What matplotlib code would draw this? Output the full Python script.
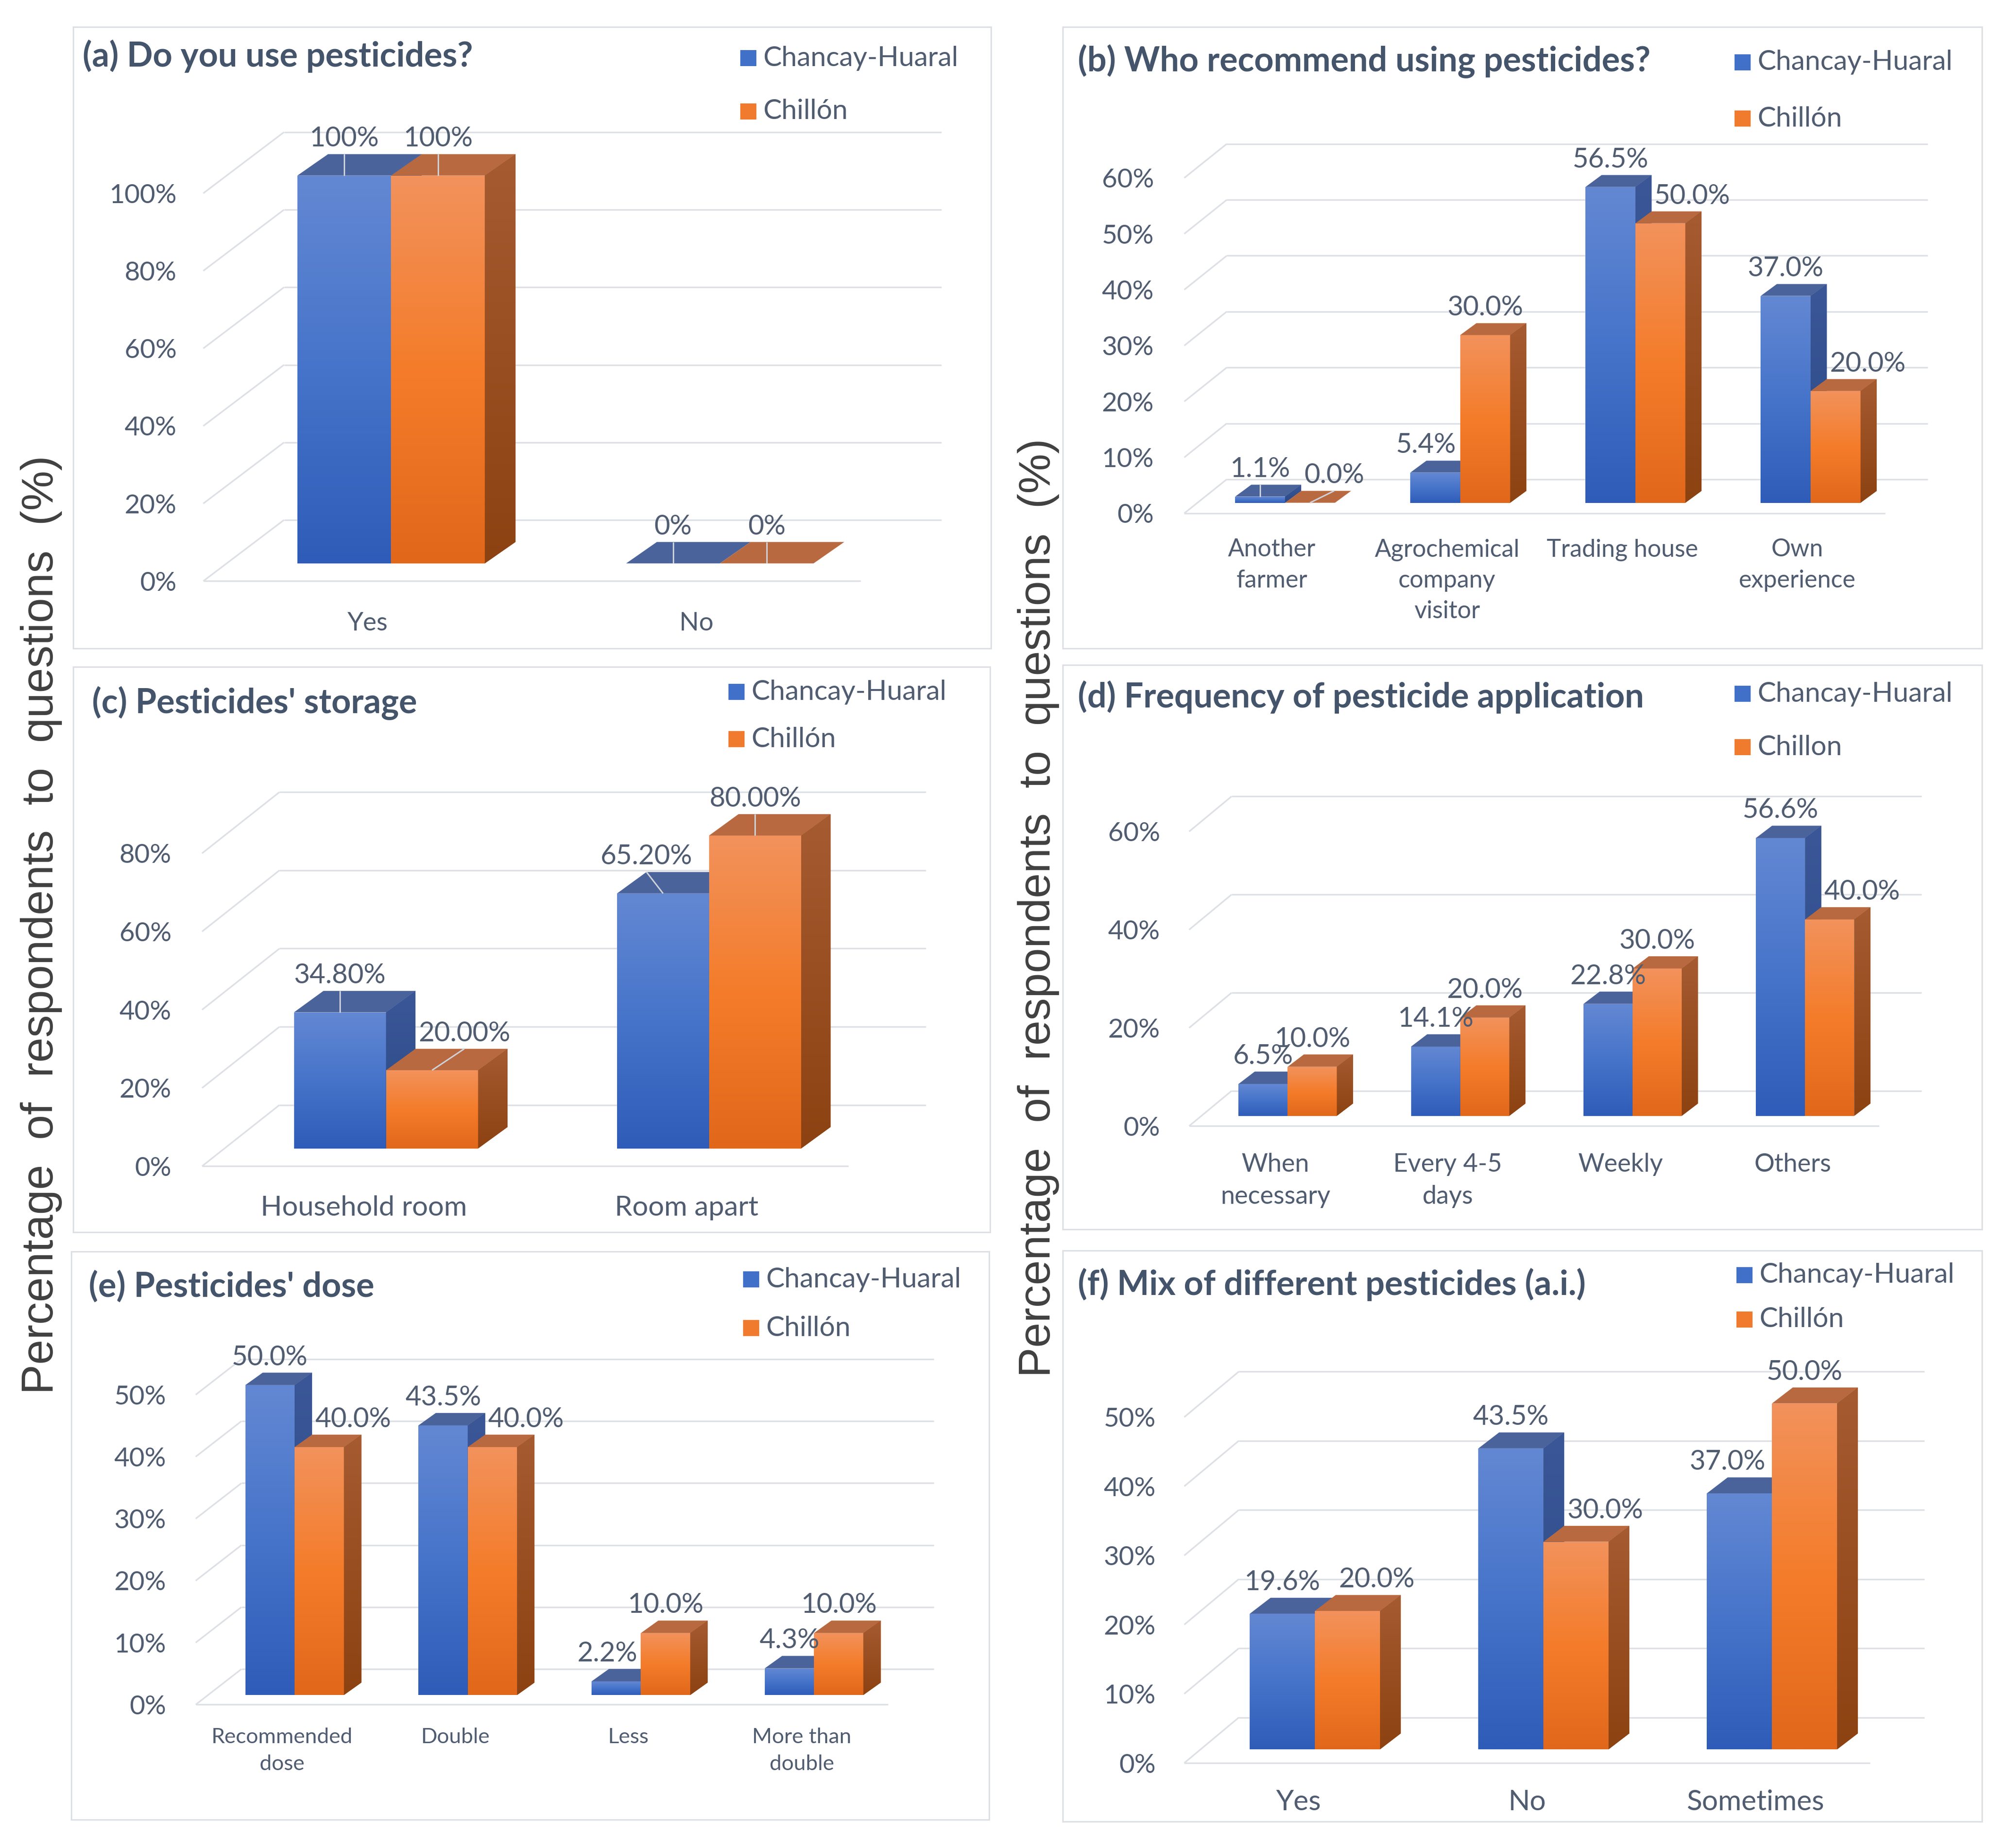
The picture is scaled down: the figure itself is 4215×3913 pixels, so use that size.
import numpy as np
import matplotlib
matplotlib.use('Agg')
import matplotlib.pyplot as plt
from matplotlib.patches import Polygon, Rectangle
from matplotlib.colors import LinearSegmentedColormap

# ======================= DATA =======================
series = ['Chancay-Huaral', 'Chillón']
series_d = ['Chancay-Huaral', 'Chillon']

a_title = '(a) Do you use pesticides?'
a_categories = ['Yes', 'No']
a_chancay = [100, 0]
a_chillon = [100, 0]
a_ticks = [0, 20, 40, 60, 80, 100]

b_title = '(b) Who recommend using pesticides?'
b_categories = ['Another\nfarmer', 'Agrochemical\ncompany\nvisitor', 'Trading house', 'Own\nexperience']
b_chancay = [1.1, 5.4, 56.5, 37.0]
b_chillon = [0.0, 30.0, 50.0, 20.0]
b_ticks = [0, 10, 20, 30, 40, 50, 60]

c_title = "(c) Pesticides' storage"
c_categories = ['Household room', 'Room apart']
c_chancay = [34.8, 65.2]
c_chillon = [20.0, 80.0]
c_ticks = [0, 20, 40, 60, 80]

d_title = '(d) Frequency of pesticide application'
d_categories = ['When\nnecessary', 'Every 4-5\ndays', 'Weekly', 'Others']
d_chancay = [6.5, 14.1, 22.8, 56.6]
d_chillon = [10.0, 20.0, 30.0, 40.0]
d_ticks = [0, 20, 40, 60]

e_title = "(e) Pesticides' dose"
e_categories = ['Recommended\ndose', 'Double', 'Less', 'More than\ndouble']
e_chancay = [50.0, 43.5, 2.2, 4.3]
e_chillon = [40.0, 40.0, 10.0, 10.0]
e_ticks = [0, 10, 20, 30, 40, 50]

f_title = '(f) Mix of different pesticides (a.i.)'
f_categories = ['Yes', 'No', 'Sometimes']
f_chancay = [19.6, 43.5, 37.0]
f_chillon = [20.0, 30.0, 50.0]
f_ticks = [0, 10, 20, 30, 40, 50]

y_label = 'Percentage  of  respondents  to  questions  (%)'

# ======================= STYLE / LAYOUT =======================
W, H, DPI = 4215, 3913, 100
FONT = ['Lato', 'DejaVu Sans']
YFONT = ['Liberation Sans', 'DejaVu Sans']
C_TITLE = '#44546A'
C_TEXT = '#505C70'
C_YLAB = '#404040'
C_GRID = '#DDE0E5'
C_BOX = '#DCDFE4'

BLUE = dict(front=('#6388D3', '#4674CA', '#2E5CB8'), top='#4B639B',
            side=('#3B5797', '#2A4886'), legend='#4170C8')
ORANGE = dict(front=('#F2925C', '#F47C2A', '#E1681B'), top='#B9693F',
              side=('#A65B31', '#8C4211'), legend='#F07A2D')

BAR_W = 0.285          # fraction of category width per bar
BAR_DX, BAR_DY = 0.38, 0.35   # bar depth as fraction of wall depth
XLAB_LINESPACING = 1.48

# layout in reference pixels (x right, y down)
panels = [
    dict(title=a_title, cats=a_categories, s1=a_chancay, s2=a_chillon, ticks=a_ticks,
         names=series, fmt='{:.0f}%', box=(155, 57, 2099, 1373),
         front=(430.6, 1823.4, 1230.4, 409.2), depth=(171, 129.4), d0=0.29,
         tick_right=374, xlab_cy=1316, xref=('Yes', 86),
         title_xy=(175, 119), legend=(1568, 123, 236), leaders=[0, 1]),
    dict(title=b_title, cats=b_categories, s1=b_chancay, s2=b_chillon, ticks=b_ticks,
         names=series, fmt='{:.1f}%', box=(2251, 57, 4198, 1373),
         front=(2508.4, 3992.7, 1086.9, 376.7), depth=(90, 72), d0=0.31,
         tick_right=2444, xlab_cy=1160, xref=('Trading house', 321),
         title_xy=(2283, 130), legend=(3674, 132, 251), leaders=[0]),
    dict(title=c_title, cats=c_categories, s1=c_chancay, s2=c_chillon, ticks=c_ticks,
         names=series, fmt='{:.2f}%', box=(155, 1412, 2097, 2609),
         front=(428, 1796.5, 2469.3, 1806.8), depth=(164, 129.6), d0=0.29,
         tick_right=363, xlab_cy=2554, xref=('Household room', 437),
         title_xy=(195, 1489), legend=(1543, 1465, 1565), leaders=[0, 1]),
    dict(title=d_title, cats=d_categories, s1=d_chancay, s2=d_chillon, ticks=d_ticks,
         names=series_d, fmt='{:.1f}%', box=(2251, 1408, 4198, 2603),
         front=(2518.7, 3979.9, 2384.3, 1760.7), depth=(90, 74.5), d0=0.29,
         tick_right=2457, xlab_cy=2461, xref=('Weekly', 180),
         title_xy=(2283, 1476), legend=(3674, 1469, 1582), leaders=[]),
    dict(title=e_title, cats=e_categories, s1=e_chancay, s2=e_chillon, ticks=e_ticks,
         names=series, fmt='{:.1f}%', box=(151, 2650, 2095, 3853),
         front=(414.5, 1881.3, 3609.4, 2953.2), depth=(97, 75.3), d0=0.27,
         tick_right=352, xlab_cy=3675, xref=('Recommended', 299),
         title_xy=(188, 2724), legend=(1574, 2709, 2812), leaders=[]),
    dict(title=f_title, cats=f_categories, s1=f_chancay, s2=f_chillon, ticks=f_ticks,
         names=series, fmt='{:.1f}%', box=(2251, 2648, 4198, 3857),
         front=(2508.4, 3960.6, 3733, 3000.6), depth=(115.7, 96.5), d0=0.30,
         tick_right=2448, xlab_cy=3812, xref=('Sometimes', 292),
         title_xy=(2283, 2720), legend=(3678, 2700, 2794), leaders=[]),
]

fig = plt.figure(figsize=(W / DPI, H / DPI), dpi=DPI)
fig.patch.set_facecolor('white')
renderer = fig.canvas.get_renderer()
PT = 72.0 / DPI


def text_w(s, size, family, weight='normal'):
    t = fig.text(0, 0, s, fontsize=size, family=family, weight=weight)
    w = t.get_window_extent(renderer).width
    t.remove()
    return w


def fit(s, target, family, weight='normal'):
    return 100.0 * target / text_w(s, 100, family, weight)


TITLE_FS = fit(a_title, 828, FONT, 'bold')
LEG_FS = fit('Chancay-Huaral', 414, FONT)
TICK_FS = fit('100%', 143, FONT)
DLAB_FS = fit('56.5%', 161, FONT)
YLAB_FS = fit(y_label, 1990, YFONT)


def grad_poly(ax, verts, cols, z):
    poly = Polygon(verts, closed=True, facecolor=cols[len(cols) // 2],
                   edgecolor='none', zorder=z, antialiased=True)
    ax.add_patch(poly)
    xs = [v[0] for v in verts]
    ys = [v[1] for v in verts]
    if max(ys) - min(ys) <= 0:
        return
    cmap = LinearSegmentedColormap.from_list('g', list(cols))
    g = np.linspace(0, 1, 256).reshape(-1, 1)
    im = ax.imshow(g, cmap=cmap, extent=[min(xs), max(xs), min(ys), max(ys)],
                   origin='upper', aspect='auto', interpolation='bilinear', zorder=z)
    im.set_clip_path(poly)


def draw_panel(P):
    cats = P['cats']
    n = len(cats)
    bl, bt, br, bb = P['box']
    xl, xr, y0, ytop = P['front']
    ticks = P['ticks']
    ymax = ticks[-1]
    cw = (xr - xl) / n
    ppv = (y0 - ytop) / ymax
    ax = fig.add_axes([bl / W, 1 - bb / H, (br - bl) / W, (bb - bt) / H])
    ax.set_facecolor('white')
    ax.set_xlim((bl - xl) / cw, (br - xl) / cw)
    ax.set_ylim((y0 - bb) / ppv, (y0 - bt) / ppv)
    ax.set_autoscale_on(False)
    for sp in ax.spines.values():
        sp.set_color(C_BOX)
        sp.set_linewidth(2.2)

    def X(px):
        return (px - xl) / cw

    def Y(py):
        return (y0 - py) / ppv

    dxu = P['depth'][0] / cw
    dyu = P['depth'][1] / ppv

    # y ticks
    ax.set_yticks(ticks)
    ax.set_yticklabels(['{}%'.format(t) for t in ticks], family=FONT,
                       fontsize=TICK_FS, color=C_TEXT)
    ax.tick_params(axis='y', length=0, pad=-(P['tick_right'] - bl) * PT)
    # x ticks
    xfs = fit(P['xref'][0], P['xref'][1], FONT)
    ax.set_xticks([k + 0.5 for k in range(n)])
    ax.set_xticklabels(cats, family=FONT, fontsize=xfs, color=C_TEXT,
                       linespacing=XLAB_LINESPACING)
    xfs_px = xfs / PT
    top_px = P['xlab_cy'] - 0.38 * xfs_px
    ax.tick_params(axis='x', length=0, pad=-(bb - top_px) * PT)

    # walls / gridlines
    for t in ticks:
        ax.plot([0, dxu], [t, t + dyu], color=C_GRID, lw=2.4, zorder=1,
                solid_capstyle='butt')
        ax.plot([dxu, n + dxu], [t + dyu, t + dyu], color=C_GRID, lw=2.4, zorder=1,
                solid_capstyle='butt')
    ax.plot([0, n], [0, 0], color=C_GRID, lw=2.4, zorder=1, solid_capstyle='butt')

    ox, oy = P['d0'] * dxu, P['d0'] * dyu
    bdx, bdy = BAR_DX * dxu, BAR_DY * dyu
    z = 2.0
    dl_px = DLAB_FS / PT
    gap = 6 / ppv
    for k in range(n):
        cx = k + 0.5 + ox
        vals = [P['s1'][k], P['s2'][k]]
        spans = [(cx - BAR_W, cx), (cx, cx + BAR_W)]
        styles = [BLUE, ORANGE]
        for (xa, xb), v, st in zip(spans, vals, styles):
            if v > 0:
                grad_poly(ax, [(xa, oy), (xb, oy), (xb, oy + v), (xa, oy + v)],
                          st['front'], z)
            z += 0.01
            ax.add_patch(Polygon([(xa, oy + v), (xb, oy + v), (xb + bdx, oy + v + bdy),
                                  (xa + bdx, oy + v + bdy)], closed=True,
                                 facecolor=st['top'], edgecolor='none', zorder=z))
            z += 0.01
            if v > 0:
                grad_poly(ax, [(xb, oy), (xb + bdx, oy + bdy), (xb + bdx, oy + v + bdy),
                               (xb, oy + v)], st['side'], z)
            z += 0.01

        # ---- data labels ----
        texts = [P['fmt'].format(v) for v in vals]
        widths = [text_w(s, DLAB_FS, FONT) / cw for s in texts]
        bottoms = [v + oy + bdy + gap for v in vals]
        # blue label
        bx = cx - BAR_W / 2
        if (vals[1] - vals[0]) * ppv > 1.5 * dl_px:
            bx -= 0.18 * BAR_W
        # orange label
        cxo = cx + BAR_W / 2
        lo0 = cxo - widths[1] / 2
        blue_back_right = cx + bdx
        shift = False
        if lo0 < blue_back_right and bottoms[1] < vals[0] + oy + bdy:
            shift = True
        dyl = abs(bottoms[1] - bottoms[0]) * ppv
        if dyl < 0.5 * dl_px and lo0 < bx + widths[0] / 2:
            shift = True
        if shift:
            cxo = max(cxo, blue_back_right + 6 / cw + widths[1] / 2)
        for s, lx, byy, v, fx in zip(texts, [bx, cxo], bottoms, vals,
                                     [cx - BAR_W / 2, cx + BAR_W / 2]):
            ax.text(lx, byy, s, ha='center', va='bottom', family=FONT,
                    fontsize=DLAB_FS, color=C_TEXT, zorder=30)
            if k in P['leaders']:
                ax.plot([lx, fx], [v + oy + bdy, v + oy], color='#CDD2DA', lw=2.2,
                        zorder=25, solid_capstyle='butt')

    # title
    tx, ty = P['title_xy']
    ax.text(X(tx), Y(ty), P['title'], ha='left', va='center', family=FONT,
            weight='bold', fontsize=TITLE_FS, color=C_TITLE, zorder=30)
    # legend
    lx, r1, r2 = P['legend']
    sq = 34
    for name, st, ry in zip(P['names'], [BLUE, ORANGE], [r1, r2]):
        ax.add_patch(Rectangle((X(lx), Y(ry + sq / 2)), sq / cw, sq / ppv,
                               facecolor=st['legend'], edgecolor='none', zorder=30))
        ax.text(X(lx + 48), Y(ry), name, ha='left', va='center', family=FONT,
                fontsize=LEG_FS, color=C_TEXT, zorder=30)


for P in panels:
    draw_panel(P)

fig.text(88 / W, 1 - 1958 / H, y_label, rotation=90, ha='center', va='center',
         family=YFONT, fontsize=YLAB_FS, color=C_YLAB)
fig.text(2199 / W, 1 - 1922 / H, y_label, rotation=90, ha='center', va='center',
         family=YFONT, fontsize=YLAB_FS, color=C_YLAB)

fig.savefig('out.png', dpi=DPI, facecolor='white')
